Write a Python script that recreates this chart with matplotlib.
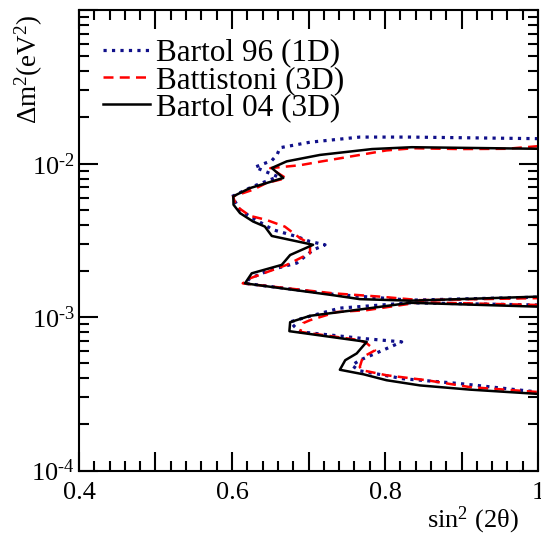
import matplotlib
matplotlib.use("Agg")
import matplotlib.pyplot as plt
from matplotlib.ticker import MultipleLocator, FixedFormatter, FixedLocator, LogLocator, NullFormatter

plt.rcParams['font.family'] = ['Liberation Serif', 'DejaVu Serif']
plt.rcParams['mathtext.fontset'] = 'custom'
plt.rcParams['mathtext.rm'] = 'Liberation Serif'
plt.rcParams['mathtext.it'] = 'Liberation Serif:italic'
plt.rcParams['mathtext.default'] = 'regular'

# Bartol 04 (3D) contour, two pieces (clipped at sin^2 = 1)
b04_up_x = [1.0, 0.835, 0.783, 0.715, 0.6715, 0.652, 0.667, 0.6235, 0.6017, 0.602, 0.6105, 0.6275,
            0.643, 0.652, 0.706, 0.676, 0.665, 0.6258, 0.617, 0.732, 0.767, 0.833, 1.0]
b04_up_y = [1.25e-2, 1.28e-2, 1.245e-2, 1.14e-2, 1.035e-2, 9.37e-3, 8.07e-3, 6.93e-3, 6.13e-3, 5.40e-3,
            4.76e-3, 4.20e-3, 3.89e-3, 3.38e-3, 2.96e-3, 2.54e-3, 2.19e-3, 1.93e-3, 1.66e-3, 1.39e-3,
            1.31e-3, 1.28e-3, 1.36e-3]
b04_lo_x = [1.0, 0.833, 0.778, 0.702, 0.676, 0.675, 0.776, 0.763, 0.748, 0.741, 0.772, 0.802, 0.8458,
            0.911, 1.0]
b04_lo_y = [1.17e-3, 1.24e-3, 1.14e-3, 1.02e-3, 9.27e-4, 8.10e-4, 6.90e-4, 5.80e-4, 5.24e-4, 4.54e-4,
            4.24e-4, 3.88e-4, 3.59e-4, 3.37e-4, 3.16e-4]

# Battistoni (3D)
bat_up_x = [1.0, 0.959, 0.898, 0.8366, 0.802, 0.758, 0.715, 0.689, 0.65, 0.6706, 0.645, 0.6275, 0.6013,
            0.606, 0.6235, 0.645, 0.669, 0.689, 0.702, 0.702, 0.6715, 0.6235, 0.614, 0.732, 0.7935,
            0.846, 1.0]
bat_up_y = [1.30e-2, 1.25e-2, 1.245e-2, 1.26e-2, 1.22e-2, 1.12e-2, 1.03e-2, 9.77e-3, 9.35e-3, 8.04e-3,
            7.48e-3, 6.76e-3, 6.11e-3, 5.26e-3, 4.57e-3, 4.30e-3, 3.89e-3, 3.27e-3, 3.00e-3, 2.61e-3,
            2.19e-3, 1.79e-3, 1.66e-3, 1.43e-3, 1.36e-3, 1.29e-3, 1.33e-3]
bat_lo_x = [1.0, 0.846, 0.776, 0.737, 0.702, 0.693, 0.689, 0.767, 0.776, 0.787, 0.771, 0.767, 0.770,
            0.802, 0.8545, 0.911, 1.0]
bat_lo_y = [1.20e-3, 1.25e-3, 1.11e-3, 1.08e-3, 9.55e-4, 9.14e-4, 8.02e-4, 7.08e-4, 6.76e-4, 6.08e-4,
            5.50e-4, 4.73e-4, 4.51e-4, 4.18e-4, 3.88e-4, 3.50e-4, 3.25e-4]

# Bartol 96 (1D)
b96_up_x = [1.0, 0.833, 0.767, 0.702, 0.6627, 0.659, 0.652, 0.630, 0.660, 0.6275, 0.600, 0.6105, 0.6235,
            0.6536, 0.6846, 0.702, 0.7216, 0.706, 0.6846, 0.65, 0.6235, 0.617, 0.732, 0.833, 1.0]
b96_up_y = [1.455e-2, 1.49e-2, 1.49e-2, 1.38e-2, 1.27e-2, 1.145e-2, 1.047e-2, 9.49e-3, 8.22e-3, 7.11e-3,
            6.11e-3, 5.00e-3, 4.53e-3, 3.71e-3, 3.35e-3, 3.11e-3, 2.96e-3, 2.74e-3, 2.25e-3, 2.03e-3,
            1.79e-3, 1.66e-3, 1.41e-3, 1.29e-3, 1.35e-3]
b96_lo_x = [1.0, 0.833, 0.741, 0.699, 0.676, 0.6824, 0.689, 0.771, 0.8218, 0.797, 0.767, 0.7565, 0.767,
            0.8235, 0.898, 1.0]
b96_lo_y = [1.20e-3, 1.24e-3, 1.145e-3, 1.005e-3, 9.31e-4, 8.61e-4, 8.02e-4, 7.26e-4, 6.90e-4, 6.08e-4,
            5.24e-4, 4.85e-4, 4.47e-4, 3.97e-4, 3.69e-4, 3.25e-4]

labels = ["Bartol 96 (1D)", "Battistoni (3D)", "Bartol 04 (3D)"]
ytick_vals = [1e-4, 1e-3, 1e-2, 1e-1]
ytick_text = ["10$^{\u20104}$", "10$^{\u20103}$", "10$^{\u20102}$", ""]
xtick_text = {0.4: "0.4", 0.6: "0.6", 0.8: "0.8", 1.0: "1"}

fig = plt.figure(figsize=(5.41, 5.36), dpi=100)
ax = fig.add_axes([0.146, 0.122, 0.8485, 0.859])

ax.plot(b96_up_x, b96_up_y, color='#10108a', ls=':', lw=2.3, label=labels[0])
ax.plot(b96_lo_x, b96_lo_y, color='#10108a', ls=':', lw=2.3)
ax.plot(bat_up_x, bat_up_y, color='#ff0000', ls=(0, (4, 2.5)), lw=1.8, label=labels[1])
ax.plot(bat_lo_x, bat_lo_y, color='#ff0000', ls=(0, (4, 2.5)), lw=1.8)
ax.plot(b04_up_x, b04_up_y, color='black', ls='-', lw=1.8, label=labels[2])
ax.plot(b04_lo_x, b04_lo_y, color='black', ls='-', lw=1.8)

ax.set_yscale('log')
ax.set_xlim(0.4, 1.0)
ax.set_ylim(1e-4, 1e-1)

ax.xaxis.set_major_locator(MultipleLocator(0.1))
ax.xaxis.set_minor_locator(MultipleLocator(0.02))
ax.xaxis.set_major_formatter(plt.FuncFormatter(lambda v, p: xtick_text.get(round(v, 2), "")))
ax.yaxis.set_major_locator(FixedLocator(ytick_vals))
ax.yaxis.set_major_formatter(FixedFormatter(ytick_text))
ax.yaxis.set_minor_locator(LogLocator(base=10, subs=range(2, 10)))
ax.yaxis.set_minor_formatter(NullFormatter())

ax.tick_params(which='both', direction='in', top=True, right=True, width=1.5, labelsize=19)
ax.tick_params(which='major', length=14)
ax.tick_params(axis='x', which='major', pad=8)
ax.tick_params(axis='y', which='major', pad=3)
ax.tick_params(which='minor', length=7)
for s in ax.spines.values():
    s.set_linewidth(1.5)

ax.set_xlabel("sin$^2$ (2θ)", fontsize=19, loc='right')
ax.xaxis.set_label_coords(0.957, -0.074)
ax.set_ylabel("Δm$^2$(eV$^2$)", fontsize=19.5, loc='top')
ax.yaxis.set_label_coords(-0.074, 0.99)

ax.legend(loc='upper left', bbox_to_anchor=(0.018, 0.972), frameon=False, fontsize=22.5,
          handlelength=1.5, handletextpad=0.2, labelspacing=-0.06, borderpad=0)

fig.savefig("out.png", dpi=100)
